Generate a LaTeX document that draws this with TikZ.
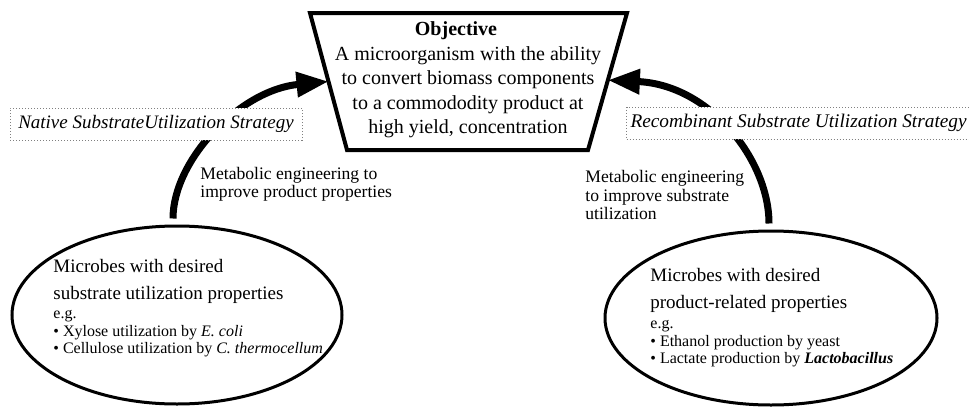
\documentclass[tikz,border=0pt]{standalone}
\usepackage{fontspec}
\setmainfont{Liberation Serif}
\usetikzlibrary{calc, arrows.meta, shapes.geometric}

\tikzset{
  objline/.style={line width=2pt, line join=miter},
  bigarrow/.style={line width=3.5pt, -{Triangle[length=16pt, width=12pt]}},
  strategy/.style={draw=gray, densely dotted, line width=0.5pt, fill=white,
    inner xsep=3pt, inner ysep=0pt, minimum height=16pt,
    font=\fontsize{9.5}{11}\selectfont\itshape},
  microbe/.style={ellipse, draw, line width=1.5pt, inner sep=0pt},
  headtext/.style={align=left, inner sep=0pt, font=\fontsize{9.5}{13.5}\selectfont},
  listtext/.style={align=left, inner sep=0pt, font=\fontsize{8}{8.7}\selectfont},
  engtext/.style={align=left, inner sep=0pt, font=\fontsize{8.8}{9.2}\selectfont},
}

\begin{document}
\begin{tikzpicture}[x=0.5pt, y=-0.5pt]
  \useasboundingbox (0,0) rectangle (969,407);
  % objective box
  \coordinate (TL) at (310,13);
  \coordinate (TR) at (627,13);
  \coordinate (BR) at (588,150);
  \coordinate (BL) at (347,150);
  \coordinate (objW) at ($(TL)!0.5!(BL)$);
  \coordinate (objE) at ($(TR)!0.49!(BR)$);
  \draw[objline] (TL) -- (TR) -- (BR) -- (BL) -- cycle;
  \node[align=center, inner sep=0pt, font=\fontsize{10}{12.25}\selectfont] (obj) at (468,80)
    {\textbf{Objective}\hspace*{12pt}\\A microorganism with the ability\\to convert biomass components\\to a commododity product at\\high yield, concentration};

  \node[microbe, minimum width=165pt, minimum height=89pt] (lsrc) at (177,315) {};
  \node[microbe, minimum width=166pt, minimum height=87pt] (rsrc) at (771,318) {};

  \draw[bigarrow] ([shift={(-4,-6)}]lsrc.north) .. controls (173,160) and (240,90) .. (objW);
  \draw[bigarrow] ([shift={(-2,-6)}]rsrc.north) .. controls (769,160) and (710,85) .. (objE);

  \node[strategy, minimum width=146pt] (native) at (156,124) {Native SubstrateUtilization Strategy};
  \node[strategy, anchor=west, inner xsep=2pt, font=\fontsize{9.65}{12}\selectfont\itshape] (recomb) at (626,123)
    {Recombinant Substrate Utilization Strategy};

  \node[engtext, anchor=west] (leng) at (200,184) {Metabolic engineering to\\improve product properties};
  \node[engtext, anchor=west] (reng) at (585,195) {Metabolic engineering\\to improve substrate\\utilization};

  \node[headtext, anchor=west] (lhead) at (53,281) {Microbes with desired\\substrate utilization properties};
  \node[listtext, anchor=west] (llist) at (53,334)
    {e.g.\\\textbullet\ Xylose utilization by \textit{E. coli}\\\textbullet\ Cellulose utilization by \textit{C. thermocellum}};
  \node[headtext, anchor=west] (rhead) at (650,290) {Microbes with desired\\product-related properties};
  \node[listtext, anchor=west] (rlist) at (650,344)
    {e.g.\\\textbullet\ Ethanol production by yeast\\\textbullet\ Lactate production by \textbf{\textit{Lactobacillus}}};
\end{tikzpicture}
\end{document}
